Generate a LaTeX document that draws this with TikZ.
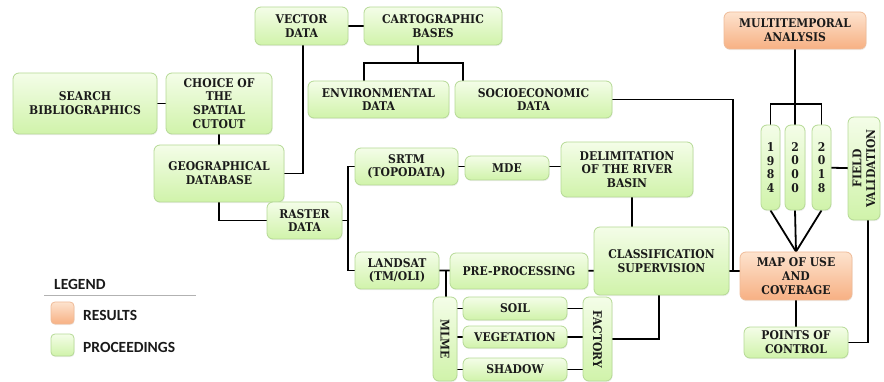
\documentclass[tikz,border=0pt]{standalone}
\usepackage{fontspec}
\newfontfamily\legfont{Carlito}
\newfontfamily\boxfont{DejaVu Serif Condensed}
\usetikzlibrary{backgrounds,calc,shadows}
\definecolor{gtop}{HTML}{F4FDE8}
\definecolor{gbot}{HTML}{D0F3AA}
\definecolor{gbord}{HTML}{B5D995}
\definecolor{otop}{HTML}{FDE3CE}
\definecolor{obot}{HTML}{F7B083}
\definecolor{obord}{HTML}{EFBB98}
\definecolor{txt}{HTML}{1A1A1A}
\tikzset{
  gbox/.style={draw=gbord, line width=0.8pt, rounded corners=6pt, top color=gtop, bottom color=gbot,
    drop shadow={opacity=0.12, shadow xshift=0.6pt, shadow yshift=-1.2pt},
    align=center, inner sep=0pt, text=txt, font=\boxfont\bfseries\fontsize{12}{13.8}\selectfont},
  obox/.style={gbox, draw=obord, top color=otop, bottom color=obot},
  conn/.style={line width=1.8pt, draw=black},
  wh/.style 2 args={minimum width=#1, minimum height=#2},
  legtext/.style={anchor=west, font=\legfont\bfseries\fontsize{15.5}{17}\selectfont, text=txt, inner sep=0pt},
}
\begin{document}
\begin{tikzpicture}[x=1pt,y=-1pt]
\useasboundingbox (0,0) rectangle (884,382);
% nodes
\node[gbox, wh={93}{38}] (vec) at (301.5,26) {VECTOR\\DATA};
\node[gbox, wh={138}{38}] (carto) at (433,26) {CARTOGRAPHIC\\BASES};
\node[gbox, wh={144}{61}] (search) at (85,103.5) {SEARCH\\BIBLIOGRAPHICS};
\node[gbox, wh={106}{61}] (choice) at (219,103.5) {CHOICE OF\\THE\\SPATIAL\\CUTOUT};
\node[gbox, wh={141}{37}] (env) at (378.5,99.5) {ENVIRONMENTAL\\DATA};
\node[gbox, wh={157}{37}] (socio) at (533.5,99.5) {SOCIOECONOMIC\\DATA};
\node[gbox, wh={130}{57}] (geo) at (219,173.5) {GEOGRAPHICAL\\DATABASE};
\node[gbox, wh={75}{37}] (raster) at (304.5,220.5) {RASTER\\DATA};
\node[gbox, wh={103}{37}] (srtm) at (406.5,166.5) {SRTM\\(TOPODATA)};
\node[gbox, wh={84}{24}] (mde) at (507,168) {MDE};
\node[gbox, wh={132}{55}] (delim) at (627,169.5) {DELIMITATION\\OF THE RIVER\\BASIN};
\node[gbox, wh={135}{68}] (class) at (661.5,261) {CLASSIFICATION\\SUPERVISION};
\node[gbox, wh={84}{37}] (landsat) at (397,270.5) {LANDSAT\\(TM/OLI)};
\node[gbox, wh={138}{36}] (pre) at (519,271) {PRE-PROCESSING};
\node[gbox, wh={84}{24}, rotate=-90] (mlme) at (445,339) {MLME};
\node[gbox, wh={104}{23}] (soil) at (515,308.5) {SOIL};
\node[gbox, wh={104}{22}] (veg) at (515,337) {VEGETATION};
\node[gbox, wh={104}{23}] (shadow) at (515,369.5) {SHADOW};
\node[gbox, wh={84}{29}, rotate=-90] (factory) at (597.5,339) {FACTORY};
\node[obox, wh={112}{48}] (map) at (796,276) {MAP OF USE\\AND\\COVERAGE};
\node[obox, wh={142}{37}] (mta) at (795,30.5) {MULTITEMPORAL\\ANALYSIS};
\node[gbox, wh={19}{85}] (y1984) at (770.5,167.5) {1\\9\\8\\4};
\node[gbox, wh={20}{85}] (y2000) at (795,167.5) {2\\0\\0\\0};
\node[gbox, wh={19}{85}] (y2018) at (821.5,167.5) {2\\0\\1\\8};
\node[gbox, wh={103}{32}, rotate=90] (field) at (864,168.5) {FIELD\\VALIDATION};
\node[gbox, wh={104}{31}] (points) at (796,342.5) {POINTS OF\\CONTROL};
% legend
\node[legtext] (legend) at (54,284) {LEGEND};
\draw[gray!60, line width=1pt] (44,296) -- (196,296);
\node[obox, wh={23}{22}, rounded corners=4pt] (lres) at (62.5,313) {};
\node[gbox, wh={23}{22}, rounded corners=4pt] (lpro) at (62.5,345) {};
\node[legtext] (tres) at (83,315) {RESULTS};
\node[legtext] (tpro) at (83,347) {PROCEEDINGS};
% connectors
\coordinate (cbj) at (418,63);
\coordinate (rj) at (348,220.5);
\coordinate (lj) at (446,271);
\coordinate (sj) at (733,271);
\coordinate (mj) at (795,104);
\begin{pgfonlayer}{background}
\begin{scope}[conn]
\draw (search.center) -- (choice.center);
\draw (vec.center) -- (carto.center);
\draw ([xshift=-15pt]carto.center) -- (cbj);
\draw ([xshift=-14.5pt]env.center) |- (cbj) -| ([xshift=-70.5pt]socio.center);
\draw (choice.center) -- (geo.center);
\draw ([xshift=1.5pt]vec.center) |- (geo.center);
\draw (geo.center) |- (raster.center);
\draw (raster.center) -- (rj);
\draw (srtm.center) -| (rj) |- (landsat.center);
\draw (srtm.center) -- (delim.center |- srtm.center);
\draw ([xshift=5pt]delim.center) -- ([xshift=5pt]delim.center |- class.center);
\draw (landsat.center) -- (pre.center -| map.center);
\draw (lj) -- (lj |- mlme.center);
\draw (soil.center -| mlme.center) -- (soil.center -| factory.center);
\draw (veg.center -| mlme.center) -- (veg.center -| factory.center);
\draw (shadow.center -| mlme.center) -- (shadow.center -| factory.center);
\draw (factory.center) -| ([xshift=-2.5pt]class.center);
\draw (socio.center) -| (sj);
\draw (mta.center) -- (y2000.center);
\draw (y1984.center) |- (mj) -| (y2018.center);
\draw (y1984.south) -- (map.north);
\draw (y2000.south) -- (map.north);
\draw (y2018.south) -- (map.north);
\draw (y2018.center) -- (field.center);
\draw ([xshift=4pt]field.center) |- (points.center);
\draw (map.center) -- (points.center);
\end{scope}
\end{pgfonlayer}
\end{tikzpicture}
\end{document}
